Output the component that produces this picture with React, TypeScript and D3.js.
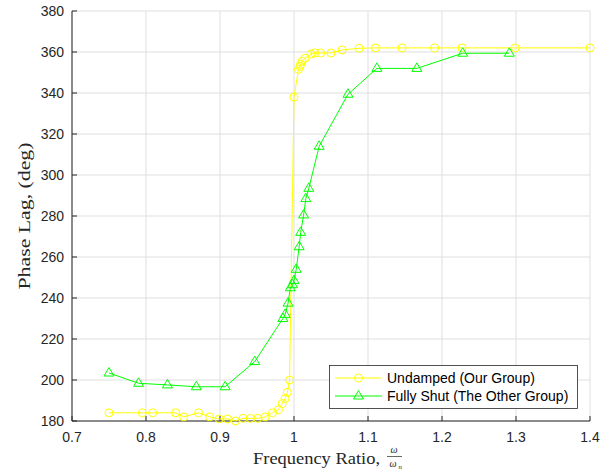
import React from 'react';
import * as d3 from 'd3';

const undampedX = [0.75, 0.795, 0.809, 0.84, 0.851, 0.871, 0.886, 0.899, 0.91, 0.921, 0.931, 0.941, 0.951, 0.961, 0.971, 0.979, 0.984, 0.988, 0.991, 0.994, 1.0, 1.006, 1.008, 1.009, 1.011, 1.015, 1.023, 1.028, 1.036, 1.05, 1.065, 1.088, 1.11, 1.146, 1.19, 1.227, 1.299, 1.4];
const undampedY = [184, 184, 184, 184, 182, 184, 182, 181, 181, 180, 181.3, 181.3, 181.3, 182, 184, 185.5, 188.5, 191, 194, 200, 338, 351.5, 353, 354, 355.5, 357, 359, 359.5, 359.5, 359.5, 361, 361.8, 362, 362, 362, 362, 362, 362];

const shutX = [0.75, 0.79, 0.829, 0.868, 0.907, 0.947, 0.985, 0.988, 0.992, 0.995, 0.998, 1.0, 1.003, 1.007, 1.009, 1.013, 1.016, 1.02, 1.034, 1.073, 1.112, 1.166, 1.228, 1.291];
const shutY = [203.4, 198.4, 197.6, 196.7, 196.7, 209, 230, 232, 237.5, 245, 246.5, 248.5, 254, 265, 272, 280.5, 288.5, 293.5, 314, 339.4, 352, 352, 359.4, 359.4];

const xTicks = [0.7, 0.8, 0.9, 1.0, 1.1, 1.2, 1.3, 1.4];
const xTickLabels = ['0.7', '0.8', '0.9', '1', '1.1', '1.2', '1.3', '1.4'];
const yTicks = [180, 200, 220, 240, 260, 280, 300, 320, 340, 360, 380];

const seriesNames = ['Undamped (Our Group)', 'Fully Shut (The Other Group)'];
const yellow = '#ffff00';
const green = '#00ff00';
const axisColor = '#262626';
const gridColor = '#dfdfdf';

const tri = 'M0,-5.5L5,3L-5,3Z';

export default function App() {
  const W = 609, H = 474;
  const L = 72, R = 590, T = 11, B = 421;
  const x = d3.scaleLinear().domain([0.7, 1.4]).range([L, R]);
  const y = d3.scaleLinear().domain([180, 380]).range([B, T]);
  const line = d3.line<[number, number]>().x(d => x(d[0])).y(d => y(d[1]));
  const uData: [number, number][] = undampedX.map((v, i) => [v, undampedY[i]]);
  const sData: [number, number][] = shutX.map((v, i) => [v, shutY[i]]);
  const tickFont = { fontFamily: '"Liberation Sans", Arial, sans-serif', fontSize: 14, fill: axisColor };
  const serif = '"Liberation Serif", "Times New Roman", serif';

  return (
    <svg width={W} height={H} style={{ position: 'absolute', left: 0, top: 0, background: '#fff' }}>
      <rect x={0} y={0} width={W} height={H} fill="#fff" />
      {/* grid */}
      {xTicks.map(t => (
        <line key={'gx' + t} x1={x(t)} x2={x(t)} y1={T} y2={B} stroke={gridColor} strokeWidth={1} />
      ))}
      {yTicks.map(t => (
        <line key={'gy' + t} x1={L} x2={R} y1={y(t)} y2={y(t)} stroke={gridColor} strokeWidth={1} />
      ))}
      {/* axes */}
      <line x1={L} x2={L} y1={T} y2={B} stroke={axisColor} strokeWidth={1} />
      <line x1={L} x2={R} y1={B} y2={B} stroke={axisColor} strokeWidth={1} />
      {xTicks.map(t => (
        <line key={'tx' + t} x1={x(t)} x2={x(t)} y1={B} y2={B - 5} stroke={axisColor} strokeWidth={1} />
      ))}
      {yTicks.map(t => (
        <line key={'ty' + t} x1={L} x2={L + 5} y1={y(t)} y2={y(t)} stroke={axisColor} strokeWidth={1} />
      ))}
      {xTicks.map((t, i) => (
        <text key={'lx' + t} x={x(t)} y={B + 21} textAnchor="middle" style={tickFont}>{xTickLabels[i]}</text>
      ))}
      {yTicks.map(t => (
        <text key={'ly' + t} x={L - 8} y={y(t) + 5} textAnchor="end" style={tickFont}>{t}</text>
      ))}
      {/* series */}
      <path d={line(uData) || ''} fill="none" stroke={yellow} strokeWidth={1} />
      {uData.map((d, i) => (
        <circle key={'uc' + i} cx={x(d[0])} cy={y(d[1])} r={4} fill="none" stroke={yellow} strokeWidth={1} />
      ))}
      <path d={line(sData) || ''} fill="none" stroke={green} strokeWidth={1} />
      {sData.map((d, i) => (
        <path key={'st' + i} d={tri} transform={`translate(${x(d[0])},${y(d[1])})`} fill="none" stroke={green} strokeWidth={1} />
      ))}
      {/* legend */}
      <rect x={329.5} y={365.5} width={248} height={43} fill="#fff" stroke={axisColor} strokeWidth={0.8} />
      <line x1={335} x2={382} y1={378} y2={378} stroke={yellow} strokeWidth={1} />
      <circle cx={358.5} cy={378} r={4} fill="none" stroke={yellow} strokeWidth={1} />
      <text x={387} y={383} style={{ ...tickFont, fill: '#000' }}>{seriesNames[0]}</text>
      <line x1={335} x2={382} y1={396} y2={396} stroke={green} strokeWidth={1} />
      <path d={tri} transform="translate(358.5,396)" fill="none" stroke={green} strokeWidth={1} />
      <text x={387} y={401} style={{ ...tickFont, fill: '#000' }}>{seriesNames[1]}</text>
      {/* axis labels */}
      <text transform={`translate(30,${(T + B) / 2}) rotate(-90)`} textAnchor="middle" textLength={147} lengthAdjust="spacingAndGlyphs" style={{ fontFamily: serif, fontSize: 17, fill: axisColor }}>Phase Lag, (deg)</text>
      <text x={253} y={464} textLength={127} lengthAdjust="spacingAndGlyphs" style={{ fontFamily: serif, fontSize: 17, fill: axisColor }}>Frequency Ratio,</text>
      <text x={394} y={453} textAnchor="middle" style={{ fontFamily: serif, fontSize: 10, fontStyle: 'italic', fill: axisColor }}>ω</text>
      <line x1={387} x2={402} y1={456.5} y2={456.5} stroke={axisColor} strokeWidth={0.7} />
      <text x={393} y={467} textAnchor="middle" style={{ fontFamily: serif, fontSize: 10, fontStyle: 'italic', fill: axisColor }}>ω</text>
      <text x={398.5} y={469} style={{ fontFamily: serif, fontSize: 7, fontStyle: 'italic', fill: axisColor }}>n</text>
    </svg>
  );
}
